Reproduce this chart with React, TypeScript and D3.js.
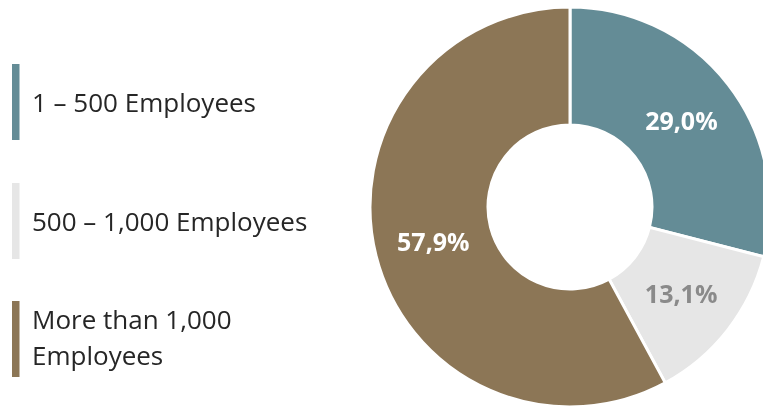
import { useEffect, useRef } from 'react'
import * as d3 from 'd3'

const categories = ['1 – 500 Employees', '500 – 1,000 Employees', 'More than 1,000 Employees']
const legendLines = [['1 – 500 Employees'], ['500 – 1,000 Employees'], ['More than 1,000', 'Employees']]
const values = [29.0, 13.1, 57.9]
const labels = ['29,0%', '13,1%', '57,9%']
const colors = ['#648C96', '#E6E6E6', '#8C7656']
const labelColors = ['#FFFFFF', '#8A8A8A', '#FFFFFF']

export default function App() {
  const svgRef = useRef<SVGSVGElement>(null)

  useEffect(() => {
    if (!svgRef.current) return
    const svg = d3.select(svgRef.current)
    svg.selectAll('*').remove()

    const width = 763
    const height = 408
    const cx = 570
    const cy = 207
    const outer = 200
    const inner = 82
    const font = '"Open Sans", sans-serif'

    svg.attr('width', width).attr('height', height).attr('viewBox', `0 0 ${width} ${height}`)

    const pie = d3.pie<number>().sort(null).value(d => d)
    const arcs = pie(values)
    const arc = d3.arc<d3.PieArcDatum<number>>().innerRadius(inner).outerRadius(outer)
    const labelArc = d3.arc<d3.PieArcDatum<number>>().innerRadius(141).outerRadius(141)

    const g = svg.append('g').attr('transform', `translate(${cx},${cy})`)

    g.selectAll('path')
      .data(arcs)
      .enter()
      .append('path')
      .attr('d', arc)
      .attr('fill', (_, i) => colors[i])
      .attr('stroke', '#fff')
      .attr('stroke-width', 3)

    g.selectAll('.slice-label')
      .data(arcs)
      .enter()
      .append('text')
      .attr('class', 'slice-label')
      .attr('transform', d => `translate(${labelArc.centroid(d)})`)
      .attr('text-anchor', 'middle')
      .attr('dy', '0.36em')
      .attr('font-family', font)
      .attr('font-weight', 'bold')
      .attr('font-size', '25px')
      .attr('fill', (_, i) => labelColors[i])
      .text((_, i) => labels[i])

    // Legend
    const legendY = d3.scaleOrdinal<string, number>().domain(categories).range([64, 183, 301])
    const legend = svg.append('g')
    categories.forEach((c, i) => {
      const y0 = legendY(c)
      legend.append('rect')
        .attr('x', 12)
        .attr('y', y0)
        .attr('width', 7.5)
        .attr('height', 76)
        .attr('fill', colors[i])
      const lines = legendLines[i]
      const baseline = lines.length === 1 ? y0 + 48 : y0 + 28
      const t = legend.append('text')
        .attr('font-family', font)
        .attr('font-size', '26px')
        .attr('fill', '#262626')
      lines.forEach((ln, j) => {
        t.append('tspan').attr('x', 32).attr('y', baseline + j * 36).text(ln)
      })
    })
  }, [])

  return (
    <svg ref={svgRef} style={{ position: 'fixed', left: 0, top: 0, display: 'block' }} />
  )
}
